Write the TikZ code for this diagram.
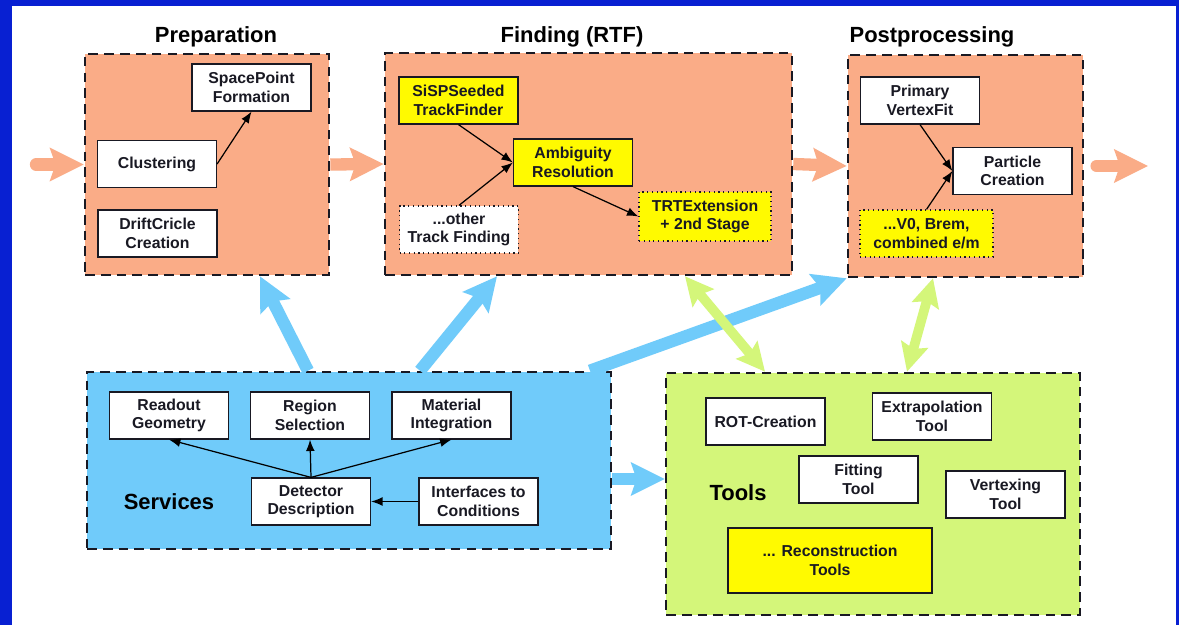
\documentclass[tikz,border=0pt]{standalone}
\usepackage{fontspec}
\setmainfont{Liberation Sans}
\usepackage{tikz}
\definecolor{salmon}{RGB}{250,172,135}
\definecolor{skyb}{RGB}{112,203,250}
\definecolor{lime}{RGB}{212,246,122}
\definecolor{yel}{RGB}{255,250,0}
\definecolor{slideblue}{RGB}{8,32,210}
\definecolor{ink}{RGB}{25,25,35}
\usetikzlibrary{arrows.meta, positioning}

\begin{document}
\begin{tikzpicture}
[x=0.02cm, y=-0.02cm,
 font=\fontsize{9}{10.5}\selectfont\bfseries, text=ink,
 box/.style={draw=ink, line width=0.7pt, fill=white, align=center, inner sep=2pt,
   minimum width=2.38cm, minimum height=0.94cm},
 ybox/.style={box, fill=yel},
 dbox/.style={box, dotted},
 panel/.style={draw=ink, line width=1.5pt, dash pattern=on 5.5pt off 3.5pt, inner sep=0pt},
 title/.style={font=\fontsize{12.5}{15}\selectfont\bfseries, text=black},
 ->/.style={line width=0.7pt, arrows={-Latex[length=6.5pt, width=5pt]}},
 fat/.style={line width=7pt, arrows={-Stealth[length=19pt, width=18.5pt, inset=3pt]}},
 fat2/.style={line width=5.5pt,
   arrows={Stealth[length=16pt, width=15.5pt, inset=2.5pt]-Stealth[length=16pt, width=15.5pt, inset=2.5pt]}}]
\useasboundingbox (0,0) rectangle (1179,625);
\fill[slideblue] (0,0) rectangle (1179,625);
\fill[white] (12,6) rectangle (1176,625);

% panels
\node[panel, fill=salmon, minimum width=4.88cm, minimum height=4.42cm] (prep) at (207,164.5) {};
\node[panel, fill=salmon, minimum width=8.14cm, minimum height=4.44cm] (find) at (588.5,164) {};
\node[panel, fill=salmon, minimum width=4.70cm, minimum height=4.44cm] (post) at (965.5,166) {};
\node[panel, fill=skyb, minimum width=10.48cm, minimum height=3.54cm] (serv) at (349,460.5) {};
\node[panel, fill=lime, minimum width=8.28cm, minimum height=4.84cm] (tools) at (873,494) {};
\node[title] (tprep) at (216,37) {Preparation};
\node[title] (tfind) at (572,37) {Finding (RTF)};
\node[title] (tpost) at (932,37) {Postprocessing};
\node[title] (tserv) at (169,502) {Services};
\node[title] (ttools) at (738,493) {Tools};

% preparation
\node[box] (spf) at (251.5,87.5) {SpacePoint\\Formation};
\node[box] (clu) at (157,164) {Clustering};
\node[box] (dcc) at (157.5,233.5) {DriftCricle\\Creation};
\draw[->] (clu.east) -- (spf.south);

% finding
\node[ybox] (sisp) at (458.5,100.5) {SiSPSeeded\\TrackFinder};
\node[ybox] (amb) at (573,162.5) {Ambiguity\\Resolution};
\node[dbox] (oth) at (459,229.5) {...other\\Track Finding};
\node[dbox, fill=yel, minimum width=2.64cm, minimum height=0.98cm] (trt) at (705,216.5) {TRTExtension\\+ 2nd Stage};
\draw[->] (sisp.south) -- (amb.west);
\draw[->] (oth.north) -- (amb.west);
\draw[->] (amb.south) -- (trt.west);

% postprocessing
\node[box] (pvf) at (920,100.5) {Primary\\VertexFit};
\node[box] (pc) at (1012.5,171) {Particle\\Creation};
\node[dbox, fill=yel, minimum width=2.66cm] (v0) at (926.5,233.5) {...V0, Brem,\\combined e/m};
\draw[->] (pvf.south) -- (pc.west);
\draw[->] (v0.north) -- (pc.west);

% services
\node[box] (rg) at (169,415.5) {Readout\\Geometry};
\node[box] (rs) at (310,415.5) {Region\\Selection};
\node[box] (mi) at (451.5,415.5) {Material\\Integration};
\node[box] (det) at (311,501.5) {Detector\\Description};
\node[box] (ico) at (478.5,501.5) {Interfaces to\\Conditions};
\draw[->] (det.north) -- (rg.south);
\draw[->] (det.north) -- (rs.south);
\draw[->] (det.north) -- (mi.south);
\draw[->] (ico.west) -- (det.east);

% tools
\node[box] (rot) at (765.5,421.5) {ROT-Creation};
\node[box] (ext) at (932,416.5) {Extrapolation\\Tool};
\node[box] (fit) at (858.5,479.5) {Fitting\\Tool};
\node[box] (vtx) at (1005.5,494.5) {Vertexing\\Tool};
\node[ybox, minimum width=4.08cm, minimum height=1.3cm] (rec) at (830,560.5) {... Reconstruction\\Tools};

% big arrows
\coordinate (in) at (36,164.5);
\coordinate (out) at (1148,166);
\draw[fat, salmon, line cap=round] (in) -- (prep.west);
\draw[fat, salmon] (prep.east) -- (find.west);
\draw[fat, salmon] (find.east) -- (post.west);
\draw[fat, salmon, line cap=round, shorten <=7pt] (post.east) -- (out);
\draw[fat, skyb] (308,0 |- serv.north) -- (260,0 |- prep.south);
\draw[fat, skyb] (420,0 |- serv.north) -- (497,0 |- find.south);
\draw[fat, skyb] (590,0 |- serv.north) -- (post.south west);
\draw[fat, skyb] (serv.east |- 0,479) -- (tools.west |- 0,479);
\draw[fat2, lime] (685,0 |- find.south) -- (765,0 |- tools.north);
\draw[fat2, lime] (933,0 |- post.south) -- (907,0 |- tools.north);

\end{tikzpicture}
\end{document}
